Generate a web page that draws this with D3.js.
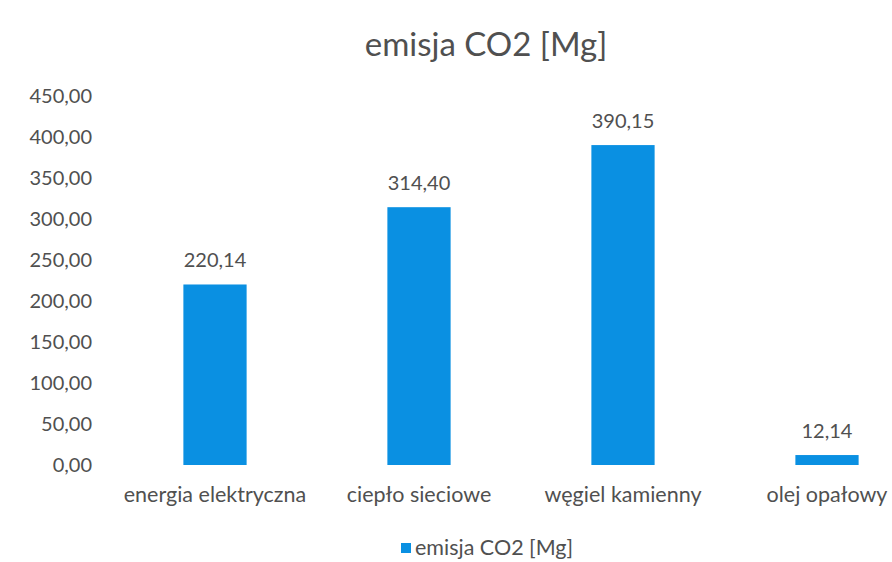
<!DOCTYPE html>
<html><head><meta charset="utf-8">
<script src="https://cdn.jsdelivr.net/npm/d3@7"></script>
<style>html,body{margin:0;padding:0;background:#fff;}svg{display:block;font-family:Lato,"Open Sans",sans-serif;}</style>
</head><body>
<script>
const categories = ["energia elektryczna","ciepło sieciowe","węgiel kamienny","olej opałowy"];
const values = [220.14, 314.40, 390.15, 12.14];
const yTicks = [0,50,100,150,200,250,300,350,400,450];
const seriesName = "emisja CO2 [Mg]";
const title = "emisja CO2 [Mg]";

const W = 892, H = 562;
const svg = d3.select("body").append("svg").attr("width", W).attr("height", H);
const fmt = v => v.toFixed(2).replace(".", ",");
const color = "#0A90E2";
const textColor = "#505050";

const x = d3.scaleBand().domain(categories).range([113, 929]).paddingInner(0.69).paddingOuter(0.345);
const y = d3.scaleLinear().domain([0, 450]).range([465, 96]);

svg.append("text").attr("x", 486).attr("y", 56).attr("text-anchor","middle")
  .attr("font-size", 33).attr("fill", textColor).text(title);

const yAxis = d3.axisLeft(y).tickValues(yTicks).tickFormat(fmt).tickSize(0).tickPadding(0);
const ga = svg.append("g").attr("transform","translate(92,0)").call(yAxis);
ga.select(".domain").remove();
ga.selectAll("text").attr("font-size", 20).attr("fill", textColor).attr("font-family","Lato,'Open Sans',sans-serif");

svg.selectAll("rect.bar").data(values).join("rect").attr("class","bar")
  .attr("x",(d,i)=>x(categories[i])).attr("width",x.bandwidth())
  .attr("y",d=>y(d)).attr("height",d=>y(0)-y(d)).attr("fill",color);

svg.selectAll("text.val").data(values).join("text").attr("class","val")
  .attr("x",(d,i)=>x(categories[i])+x.bandwidth()/2).attr("y",d=>y(d)-17)
  .attr("text-anchor","middle").attr("font-size",20).attr("fill",textColor).text(fmt);

const xAxis = d3.axisBottom(x).tickSize(0).tickPadding(0);
const gx = svg.append("g").attr("transform","translate(0,487)").call(xAxis);
gx.select(".domain").remove();
gx.selectAll("text").attr("font-size",21.5).attr("fill",textColor).attr("font-family","Lato,'Open Sans',sans-serif");

const lg = svg.append("g").attr("transform","translate(401,543)");
lg.append("rect").attr("width",10).attr("height",10).attr("fill",color);
lg.append("text").attr("x",14).attr("y",12).attr("font-size",21.5).attr("fill",textColor).text(seriesName);
</script>
</body></html>
